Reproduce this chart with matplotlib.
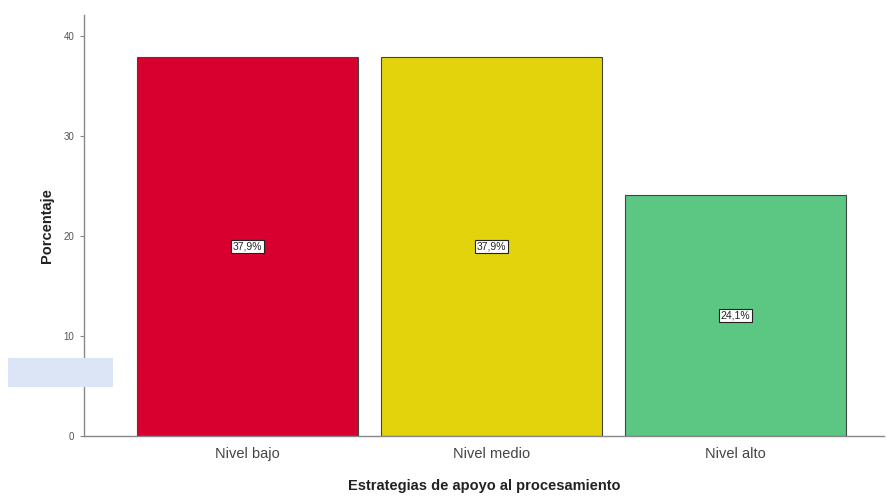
import matplotlib
matplotlib.use("Agg")
import matplotlib.pyplot as plt
from matplotlib.patches import Rectangle

plt.rcParams["font.family"] = ["Liberation Sans", "DejaVu Sans"]

categories = ["Nivel bajo", "Nivel medio", "Nivel alto"]
values = [37.9, 37.9, 24.1]
labels = ["37,9%", "37,9%", "24,1%"]
colors = ["#d7002f", "#e2d30c", "#5cc683"]
yticks = [0, 10, 20, 30, 40]

fig = plt.figure(figsize=(8.87, 4.96), dpi=100)
ax = fig.add_axes([84/887, 60/496, 800/887, 421/496])

x = list(range(len(categories)))
ax.bar(x, values, width=0.906, color=colors, edgecolor="#444444", linewidth=0.8)
for xi, v, lab in zip(x, values, labels):
    ax.text(xi, v/2, lab, ha="center", va="center", fontsize=7.5, color="#222222",
            bbox=dict(boxstyle="square,pad=0.15", facecolor="white", edgecolor="#222222", linewidth=0.8))

ax.set_xlim(-0.670, 2.609)
ax.set_ylim(0, 42.1)
ax.set_xticks(x)
ax.set_xticklabels(categories, fontsize=10.5, color="#444444")
ax.set_yticks(yticks)
ax.set_yticklabels([str(t) for t in yticks], fontsize=7, color="#555555")
ax.tick_params(axis="x", length=0, pad=8)
ax.tick_params(axis="y", length=3, color="#888888", pad=4)
for s in ["top", "right"]:
    ax.spines[s].set_visible(False)
for s in ["left", "bottom"]:
    ax.spines[s].set_color("#888888")
    ax.spines[s].set_linewidth(1.0)

ax.set_xlabel("Estrategias de apoyo al procesamiento", fontsize=10.5, fontweight="bold", color="#222222", labelpad=13)
ax.set_ylabel("Porcentaje", fontsize=10.5, fontweight="bold", color="#222222", labelpad=7)

fig.patches.append(Rectangle((8/887, (496-387)/496), 105/887, 29/496, transform=fig.transFigure,
                             facecolor="#dbe5f5", edgecolor="none", zorder=0))

fig.savefig("out.png", dpi=100)
